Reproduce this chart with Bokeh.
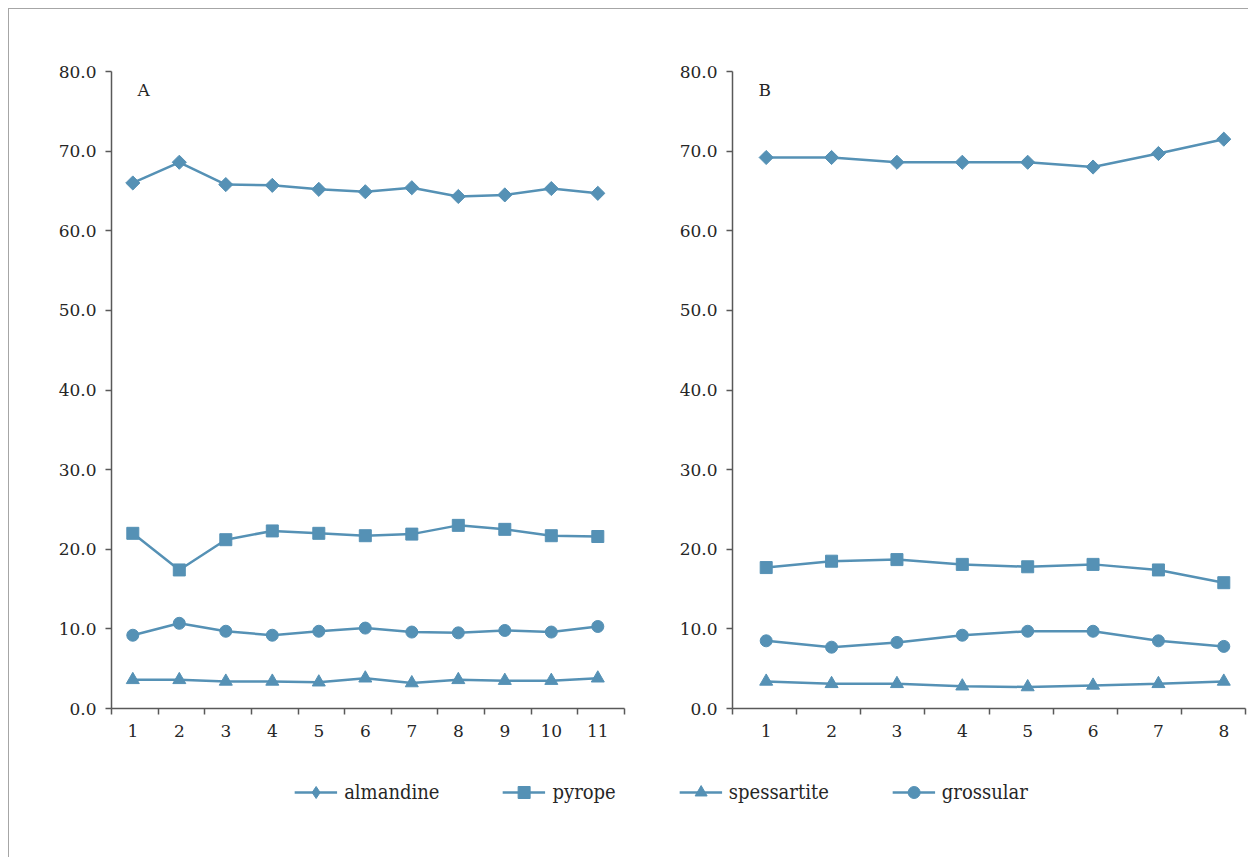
import numpy as np
from bokeh.plotting import figure
from bokeh.models import (Range1d, FixedTicker, LinearAxis, NumeralTickFormatter,
                          Label, Legend, LegendItem, ColumnDataSource)
from bokeh.layouts import column, row
from bokeh.embed import file_html
from bokeh.resources import INLINE

# ---------------- data ----------------
samples_A = [1, 2, 3, 4, 5, 6, 7, 8, 9, 10, 11]
almandine_A = [66.0, 68.6, 65.8, 65.7, 65.2, 64.9, 65.4, 64.3, 64.5, 65.3, 64.7]
pyrope_A = [22.0, 17.4, 21.2, 22.3, 22.0, 21.7, 21.9, 23.0, 22.5, 21.7, 21.6]
spessartite_A = [3.6, 3.6, 3.4, 3.4, 3.3, 3.8, 3.2, 3.6, 3.5, 3.5, 3.8]
grossular_A = [9.2, 10.7, 9.7, 9.2, 9.7, 10.1, 9.6, 9.5, 9.8, 9.6, 10.3]

samples_B = [1, 2, 3, 4, 5, 6, 7, 8]
almandine_B = [69.2, 69.2, 68.6, 68.6, 68.6, 68.0, 69.7, 71.5]
pyrope_B = [17.7, 18.5, 18.7, 18.1, 17.8, 18.1, 17.4, 15.8]
spessartite_B = [3.4, 3.1, 3.1, 2.8, 2.7, 2.9, 3.1, 3.4]
grossular_B = [8.5, 7.7, 8.3, 9.2, 9.7, 9.7, 8.5, 7.8]

series_names = ["almandine", "pyrope", "spessartite", "grossular"]
y_ticks = [0, 10, 20, 30, 40, 50, 60, 70, 80]

# ---------------- style ----------------
COLOR = "#5591B5"
AXIS_COLOR = "#595959"
TEXT_COLOR = "#262626"
FONT = "DejaVu Serif"
LEGEND_FONT = "DejaVu Serif Condensed, DejaVu Serif"

data_A = {"almandine": almandine_A, "pyrope": pyrope_A,
          "spessartite": spessartite_A, "grossular": grossular_A}
data_B = {"almandine": almandine_B, "pyrope": pyrope_B,
          "spessartite": spessartite_B, "grossular": grossular_B}


def make_panel(xs, data, x_start, x_end, width, min_left, min_right, letter):
    p = figure(width=width, height=750, x_range=Range1d(x_start, x_end),
               y_range=Range1d(0, 80), output_backend="svg", toolbar_location=None,
               x_axis_type=None, y_axis_type=None,
               min_border_left=min_left, min_border_right=min_right,
               min_border_top=62, min_border_bottom=51)
    p.outline_line_color = None
    p.background_fill_color = "white"
    p.border_fill_color = "white"

    yaxis = LinearAxis(ticker=FixedTicker(ticks=y_ticks, minor_ticks=[]),
                       formatter=NumeralTickFormatter(format="0.0"))
    yaxis.axis_line_color = AXIS_COLOR
    yaxis.axis_line_width = 1.5
    yaxis.major_tick_line_color = AXIS_COLOR
    yaxis.major_tick_line_width = 1.5
    yaxis.major_tick_out = 6
    yaxis.major_tick_in = 0
    yaxis.minor_tick_line_color = None
    yaxis.major_label_standoff = 9
    yaxis.major_label_text_font = FONT
    yaxis.major_label_text_font_size = "17px"
    yaxis.major_label_text_color = TEXT_COLOR
    p.add_layout(yaxis, "left")

    bounds = list(np.linspace(x_start, x_end, len(xs) + 1))
    xaxis = LinearAxis(ticker=FixedTicker(ticks=xs, minor_ticks=bounds))
    xaxis.major_label_overrides = {x: str(x) for x in xs}
    xaxis.axis_line_color = AXIS_COLOR
    xaxis.axis_line_width = 1.5
    xaxis.major_tick_line_color = None
    xaxis.major_tick_out = 0
    xaxis.major_tick_in = 0
    xaxis.minor_tick_line_color = AXIS_COLOR
    xaxis.minor_tick_line_width = 1.5
    xaxis.minor_tick_out = 6
    xaxis.minor_tick_in = 0
    xaxis.major_label_standoff = 10
    xaxis.major_label_text_font = FONT
    xaxis.major_label_text_font_size = "17px"
    xaxis.major_label_text_color = TEXT_COLOR
    p.add_layout(xaxis, "below")

    markers = {"almandine": ("square", 10, np.pi / 4),
               "pyrope": ("square", 12, 0),
               "spessartite": ("triangle", 13, 0),
               "grossular": ("circle", 12, 0)}
    for name in series_names:
        src = ColumnDataSource(dict(x=xs, y=data[name]))
        p.line("x", "y", source=src, line_color=COLOR, line_width=2.5)
        m, s, a = markers[name]
        p.scatter("x", "y", source=src, marker=m, size=s, angle=a,
                  fill_color=COLOR, line_color=COLOR, line_width=1)

    p.add_layout(Label(x=26, y=609, x_units="screen", y_units="screen", text=letter,
                       text_font=FONT, text_font_size="17px", text_color=TEXT_COLOR))
    return p


pA = make_panel(samples_A, data_A, 0.542, 11.574, 652, 102, 37, "A")
pB = make_panel(samples_B, data_B, 0.4845, 8.332, 587, 71, 3, "B")

# ---------------- legend figure ----------------
# legend renderers carry the real series but sit outside this figure's visible range
pL = figure(width=1239, height=98, x_range=Range1d(0, 1), y_range=Range1d(-2, -1),
            output_backend="svg", toolbar_location=None,
            x_axis_type=None, y_axis_type=None,
            min_border_left=65, min_border_right=0, min_border_top=0, min_border_bottom=32)
pL.outline_line_color = None
legend_markers = {"almandine": "diamond", "pyrope": "square",
                  "spessartite": "triangle", "grossular": "circle"}
items = []
for name in series_names:
    src = ColumnDataSource(dict(x=samples_A, y=data_A[name]))
    r1 = pL.line("x", "y", source=src, line_color=COLOR, line_width=2.5)
    r2 = pL.scatter("x", "y", source=src, marker=legend_markers[name],
                    fill_color=COLOR, line_color=COLOR)
    items.append(LegendItem(label=name, renderers=[r1, r2]))
legend = Legend(items=items, location="center", orientation="horizontal",
                spacing=63, glyph_width=43, glyph_height=30, label_standoff=7,
                label_text_font=LEGEND_FONT, label_text_font_size="20px",
                label_text_color=TEXT_COLOR, border_line_color=None,
                background_fill_alpha=0, padding=0, margin=0)
pL.add_layout(legend, "center")

layout = column(row(pA, pB), pL,
                styles={"border-top": "1px solid #a6a6a6",
                        "border-left": "1px solid #a6a6a6",
                        "margin-left": "8px", "margin-top": "8px"})

open("out.html", "w").write(file_html(layout, INLINE))
